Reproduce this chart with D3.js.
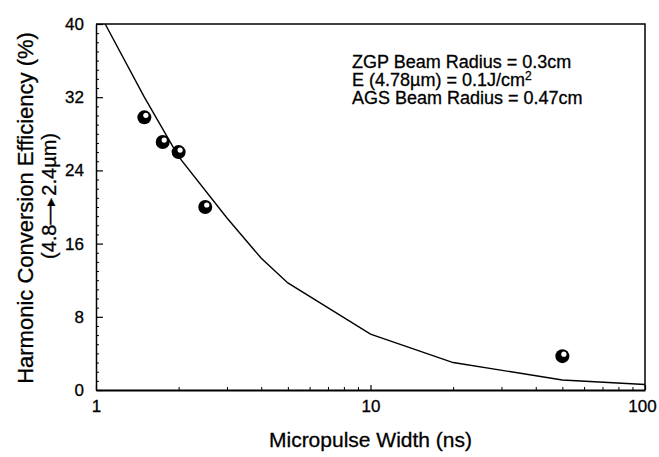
<!DOCTYPE html>
<html>
<head>
<meta charset="utf-8">
<script src="https://cdn.jsdelivr.net/npm/d3@7"></script>
<style>
  body { margin: 0; background: #fff; }
  text { font-family: "Liberation Sans", Arial, Helvetica, sans-serif; fill: #000; stroke: #000; stroke-width: 0.3px; }
</style>
</head>
<body>
<div id="chart"></div>
<script>
// data
const curveWidth = [1.08, 1.5, 2, 3, 4, 5, 10, 20, 50, 100];   // ns
const curveEff = [40, 32, 25.5, 18.8, 14.4, 11.7, 6.1, 3.0, 1.1, 0.6]; // %
const measWidth = [1.5, 1.75, 2.0, 2.5, 50];
const measEff = [29.8, 27.1, 26.0, 20.0, 3.7];
const yTicks = [0, 8, 16, 24, 32, 40];
const xTicks = [1, 10, 100];
const notes = ["ZGP Beam Radius = 0.3cm", "E (4.78\u00b5m) = 0.1J/cm", "AGS Beam Radius = 0.47cm"];

const W = 659, H = 457;
const mLeft = 96, mRight = 645, mTop = 24, mBottom = 390;

const svg = d3.select("#chart").append("svg")
    .attr("width", W)
    .attr("height", H);

const x = d3.scaleLog().domain([1, 100]).range([mLeft, mRight]);
const y = d3.scaleLinear().domain([0, 40]).range([mBottom, mTop]);

// minor ticks
const xMinor = [];
[1, 10].forEach(dec => { for (let k = 2; k <= 9; k++) xMinor.push(k * dec); });
const yMinor = d3.range(0, 41, 1).filter(v => v % 8 !== 0);

const xAxis = d3.axisBottom(x).tickValues(xTicks).tickFormat(d3.format("d"))
    .tickSizeInner(-5).tickSizeOuter(0).tickPadding(10);
const gX = svg.append("g")
    .attr("transform", `translate(0,${mBottom})`)
    .call(xAxis);
gX.select(".domain").attr("stroke-width", 2);
gX.selectAll(".tick line").attr("stroke-width", 1.2);
gX.selectAll(".tick text").attr("font-size", 17).attr("dy", "0.71em").attr("y", 10)
    .attr("dx", d => d === 100 ? -3 : 0);

svg.append("g")
    .attr("transform", `translate(0,${mBottom})`)
    .call(d3.axisBottom(x).tickValues(xMinor).tickFormat("").tickSizeInner(-3).tickSizeOuter(0))
    .call(g => g.select(".domain").remove());

const yAxis = d3.axisLeft(y).tickValues(yTicks).tickFormat(d3.format("d"))
    .tickSizeInner(-7).tickSizeOuter(0).tickPadding(12);
const gY = svg.append("g")
    .attr("transform", `translate(${mLeft},0)`)
    .call(yAxis);
gY.select(".domain").attr("stroke-width", 1.5);
gY.selectAll(".tick line").attr("stroke-width", 1.2);
gY.selectAll(".tick text").attr("font-size", 17);

svg.append("g")
    .attr("transform", `translate(${mLeft},0)`)
    .call(d3.axisLeft(y).tickValues(yMinor).tickFormat("").tickSizeInner(-3).tickSizeOuter(0))
    .call(g => g.select(".domain").remove());

// frame top + right
svg.append("path")
    .attr("d", `M${mLeft},${mTop}H${mRight}V${mBottom}`)
    .attr("fill", "none")
    .attr("stroke", "#000")
    .attr("stroke-width", 1.5);

// model curve
const line = d3.line().x(d => x(d[0])).y(d => y(d[1]));
svg.append("path")
    .datum(d3.zip(curveWidth, curveEff))
    .attr("d", line)
    .attr("fill", "none")
    .attr("stroke", "#000")
    .attr("stroke-width", 1.4);

// measured points (shaded balls)
const balls = svg.selectAll(".ball")
    .data(d3.zip(measWidth, measEff))
    .join("g")
    .attr("class", "ball")
    .attr("transform", d => `translate(${x(d[0])},${y(d[1])})`);
balls.append("circle").attr("r", 7).attr("fill", "#000");
balls.append("circle").attr("cx", 1.5).attr("cy", -2).attr("r", 2.6).attr("fill", "#fff");

// annotations
const ann = svg.append("g");
notes.forEach((t, i) => {
    const tx = ann.append("text")
        .attr("x", 352)
        .attr("y", 68 + i * 18)
        .attr("font-size", 18)
        .text(t);
    if (i === 1) tx.append("tspan").attr("dy", -6).attr("font-size", 12).text("2");
});

// axis titles
svg.append("text")
    .attr("x", (mLeft + mRight) / 2)
    .attr("y", 447)
    .attr("text-anchor", "middle")
    .attr("font-size", 21)
    .text("Micropulse Width (ns)");

svg.append("text")
    .attr("transform", `translate(33,208) rotate(-90)`)
    .attr("text-anchor", "middle")
    .attr("font-size", 22)
    .text("Harmonic Conversion Efficiency (%)");

const y2 = svg.append("text")
    .attr("transform", `translate(56,196) rotate(-90)`)
    .attr("text-anchor", "middle")
    .attr("font-size", 20);
y2.append("tspan").text("(4.8");
y2.append("tspan").text("\u2014");
y2.append("tspan").attr("dx", -4).attr("font-size", 13).attr("dy", -1).text("\u25ba");
y2.append("tspan").attr("dy", 1).text("2.4\u00b5m)");
</script>
</body>
</html>
